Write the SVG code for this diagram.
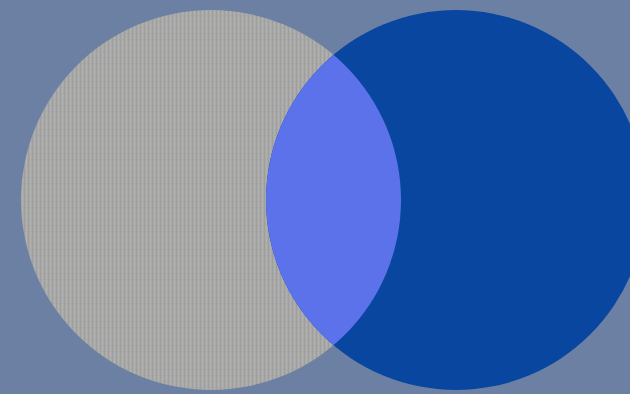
<svg xmlns="http://www.w3.org/2000/svg" width="630" height="394" viewBox="0 0 630 394">
  <style>
    .bg { fill: #6b80a2; }
    .setA { fill: url(#linen); }
    .setB { fill: #0946a0; }
    .overlap { fill: #5b72ea; }
  </style>
  <defs>
    <pattern id="linen" width="4" height="6" patternUnits="userSpaceOnUse">
      <rect width="4" height="6" fill="#a9a9a8"/>
      <rect x="0" width="1" height="6" fill="#9d9e9f"/>
      <rect x="2" width="1" height="6" fill="#b2b1ae"/>
      <rect y="3" width="4" height="1" fill="#a3a4a5" opacity="0.6"/>
    </pattern>
    <clipPath id="clipA">
      <circle cx="211" cy="200" r="190"/>
    </clipPath>
  </defs>
  <rect class="bg" width="630" height="394"/>
  <g id="set-a">
    <circle class="setA" cx="211" cy="200" r="190"/>
  </g>
  <g id="set-b">
    <circle class="setB" cx="456" cy="200" r="190"/>
  </g>
  <g id="intersection">
    <circle class="overlap" cx="456" cy="200" r="190" clip-path="url(#clipA)"/>
  </g>
  <g id="connectors"/>
</svg>
